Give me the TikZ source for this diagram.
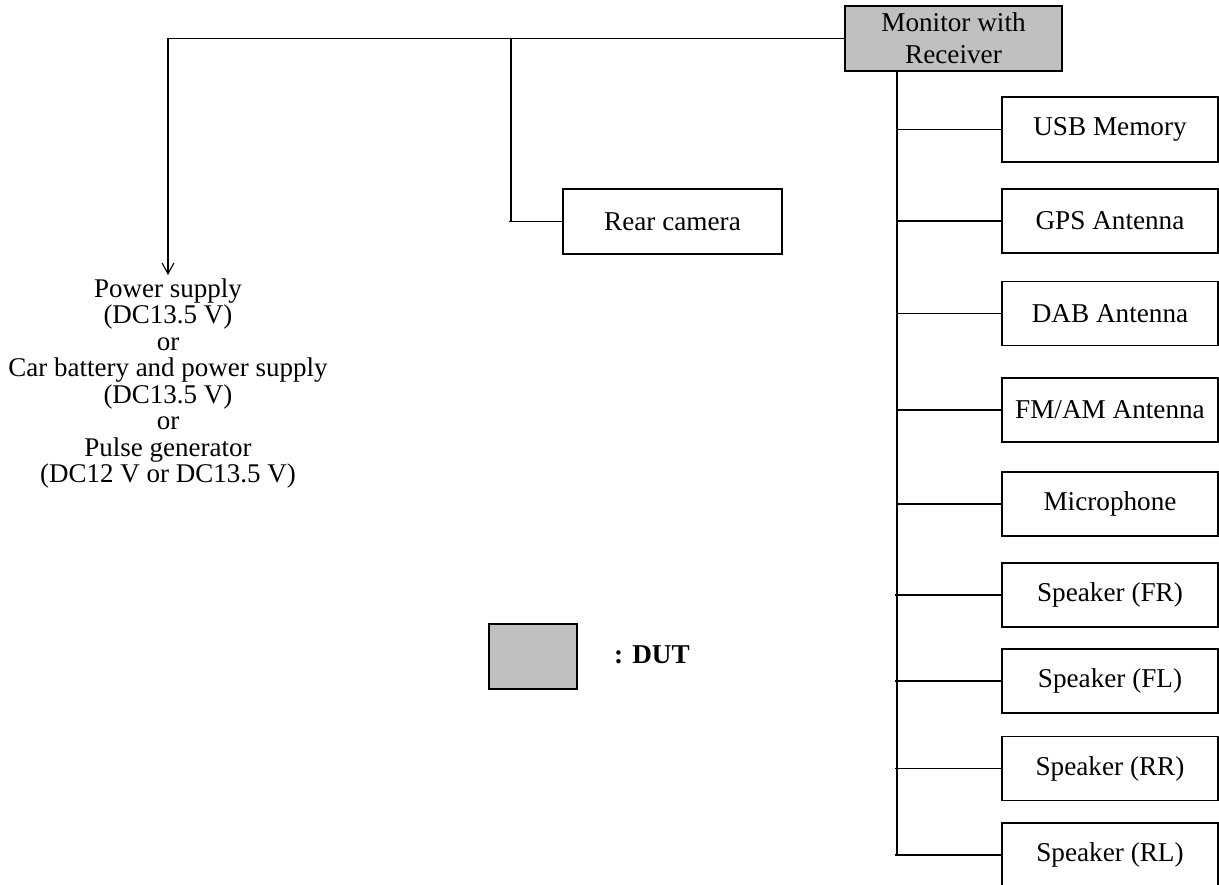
\documentclass[tikz,border=0pt]{standalone}
\usepackage{fontspec}
\setmainfont{Liberation Serif}
\usetikzlibrary{arrows.meta}
\definecolor{dutgray}{HTML}{C0C0C0}
\begin{document}
\begin{tikzpicture}[x=1pt,y=-1pt,
  every node/.style={font=\fontsize{27.2}{32}\selectfont},
  box/.style={draw, line width=1.2pt, rectangle, minimum width=216pt, minimum height=64pt, inner sep=0pt},
  dutbox/.style={box, fill=dutgray},
  wire/.style={line width=1.4pt},
  arrowwire/.style={wire, -{Straight Barb[length=11pt,width=12pt,line width=1.1pt]}}
]
\useasboundingbox (0,0) rectangle (1219,885);
% DUT
\node[dutbox, minimum width=217pt, minimum height=65pt, align=center] (monitor) at (953.5,38.5) {Monitor with\\Receiver};
% peripherals
\node[box, minimum width=219pt, minimum height=65pt] (camera) at (672.5,221.5) {Rear camera};
\node[box, minimum height=65pt] (usb) at (1110,129.5) {USB Memory};
\node[box] (gps) at (1110,221) {GPS Antenna};
\node[box] (dab) at (1110,313.5) {DAB Antenna};
\node[box] (fmam) at (1110,410) {FM/AM Antenna};
\node[box] (mic) at (1110,504) {Microphone};
\node[box] (spkfr) at (1110,595) {Speaker (FR)};
\node[box] (spkfl) at (1110,681) {Speaker (FL)};
\node[box] (spkrr) at (1110,768.5) {Speaker (RR)};
\node[box] (spkrl) at (1110,855) {Speaker (RL)};
% power
\node[align=center, inner sep=0pt, anchor=north, font=\fontsize{27}{26.5}\selectfont] (power) at (168,278.5)
  {Power supply\\(DC13.5 V)\\or\\Car battery and power supply\\(DC13.5 V)\\or\\Pulse generator\\(DC12 V or DC13.5 V)};
% legend
\node[dutbox, minimum width=88pt, minimum height=65pt] (legend) at (533,656.5) {};
\node[anchor=west, inner sep=0pt, font=\fontsize{27.2}{32}\selectfont\bfseries] (dutlabel) at (614,655) {: DUT};
% wiring
\coordinate (camtap) at (511,38.5);
\coordinate (bus) at (897,854);
\draw[arrowwire] (monitor.west) -| ([yshift=3.5pt]power.north);
\draw[wire] (camtap) |- (camera.west);
\draw[wire] ([xshift=-2pt]camtap |- camera.west) -- (camera.west);
\draw[wire] (bus |- monitor.south) -- (bus);
\draw[wire] (bus |- usb.west) -- (usb.west);
\draw[wire] (bus |- gps.west) -- (gps.west);
\draw[wire] (bus |- dab.west) -- (dab.west);
\draw[wire] (bus |- fmam.west) -- (fmam.west);
\draw[wire] (bus |- mic.west) -- (mic.west);
\draw[wire] ([xshift=-2pt]bus |- spkfr.west) -- (spkfr.west);
\draw[wire] ([xshift=-2pt]bus |- spkfl.west) -- (spkfl.west);
\draw[wire] ([xshift=-2pt]bus |- spkrr.west) -- (spkrr.west);
\draw[wire] ([xshift=-2pt]bus |- spkrl.west) -- (spkrl.west);
\end{tikzpicture}
\end{document}
